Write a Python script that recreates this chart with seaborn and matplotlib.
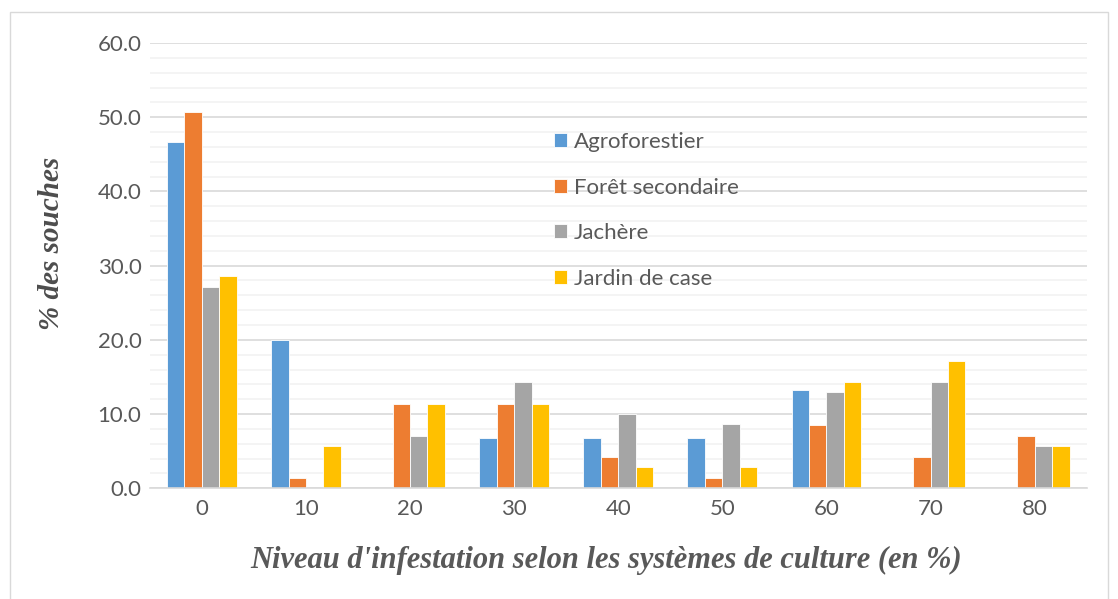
import numpy as np
import pandas as pd
import seaborn as sns
import matplotlib
matplotlib.use("Agg")
import matplotlib.pyplot as plt
from matplotlib.patches import Rectangle
from matplotlib.ticker import MultipleLocator

# niveaux d'infestation (%)
niveaux = ["0", "10", "20", "30", "40", "50", "60", "70", "80"]
systemes = ["Agroforestier", "Forêt secondaire", "Jachère", "Jardin de case"]

agroforestier = [46.7, 20.0, 0.0, 6.7, 6.7, 6.7, 13.3, 0.0, 0.0]
foret_secondaire = [50.7, 1.4, 11.3, 11.3, 4.2, 1.4, 8.5, 4.2, 7.0]
jachere = [27.1, 0.0, 7.1, 14.3, 10.0, 8.6, 12.9, 14.3, 5.7]
jardin_case = [28.6, 5.7, 11.4, 11.4, 2.9, 2.9, 14.3, 17.1, 5.7]

couleurs = ["#5b9bd5", "#ed7d31", "#a5a5a5", "#ffc000"]

rows = []
for nom, vals in zip(systemes, [agroforestier, foret_secondaire, jachere, jardin_case]):
    for n, v in zip(niveaux, vals):
        rows.append({"niveau": n, "systeme": nom, "pct": v})
df = pd.DataFrame(rows)

sns.set_style("white")
plt.rcParams["font.family"] = ["Lato", "DejaVu Sans"]

fig = plt.figure(figsize=(11.18, 5.99), dpi=100)
ax = fig.add_axes([0.134, 0.185, 0.838, 0.743])

sns.barplot(data=df, x="niveau", y="pct", hue="systeme", order=niveaux,
            hue_order=systemes, palette=couleurs, width=0.67, saturation=1,
            edgecolor="white", linewidth=0.6, ax=ax)

ax.set_ylim(0, 60)
ax.yaxis.set_major_locator(MultipleLocator(10))
ax.yaxis.set_minor_locator(MultipleLocator(2))
ax.grid(which="minor", axis="y", color="#f2f2f2", linewidth=1.2, zorder=0)
ax.grid(which="major", axis="y", color="#d9d9d9", linewidth=1.2, zorder=0)
ax.set_axisbelow(True)
ax.set_yticks(np.arange(0, 61, 10))
ax.set_yticklabels([f"{v:.1f}" for v in np.arange(0, 61, 10)])
for s in ["top", "right", "left"]:
    ax.spines[s].set_visible(False)
ax.spines["bottom"].set_color("#d9d9d9")
ax.spines["bottom"].set_linewidth(1.2)
ax.tick_params(axis="both", length=0, labelsize=16, labelcolor="#595959")
ax.tick_params(axis="y", pad=6)
ax.tick_params(axis="x", pad=8)

ax.set_xlabel("Niveau d'infestation selon les systèmes de culture (en %)",
              fontsize=22, fontweight="bold", fontstyle="italic",
              family=["Liberation Serif"], color="#595959")
ax.xaxis.set_label_coords(0.487, -0.13)
ax.set_ylabel("% des souches", fontsize=21, fontweight="bold",
              fontstyle="italic", family=["Liberation Serif"],
              color="#4d4d4d")
ax.yaxis.set_label_coords(-0.091, 0.55)

handles, labels = ax.get_legend_handles_labels()
ax.legend(handles, labels, loc="upper left", bbox_to_anchor=(0.41, 0.845),
          frameon=False, fontsize=16, labelcolor="#595959",
          handlelength=0.6, handleheight=0.6, handletextpad=0.3,
          labelspacing=1.15)

fig.patches.append(Rectangle((10 / 1118, -0.01), 1098 / 1118, 1 - 12 / 599 + 0.01,
                             transform=fig.transFigure, fill=False,
                             edgecolor="#d9d9d9", linewidth=1))

fig.savefig("out.png", dpi=100)
